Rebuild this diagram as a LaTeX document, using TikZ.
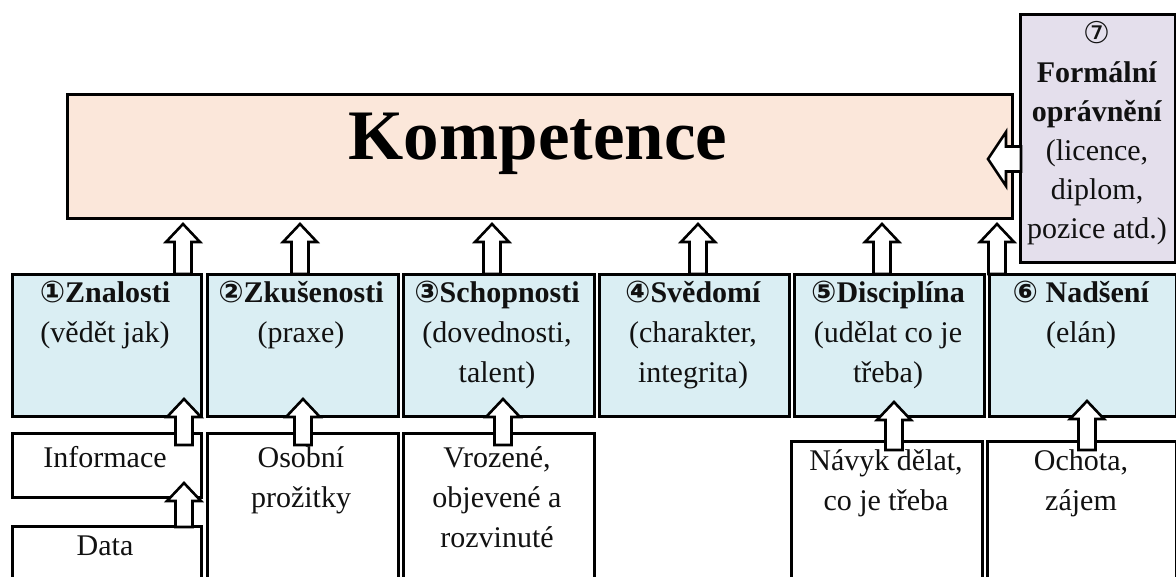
\documentclass[tikz,border=0pt]{standalone}
\usepackage{fontspec}
\setmainfont{Liberation Serif}
\newfontfamily\circfont{DejaVu Sans}
\usetikzlibrary{calc}
\definecolor{kfill}{HTML}{FBE7DA}
\definecolor{bfill}{HTML}{DAEEF3}
\definecolor{lfill}{HTML}{E4DFEC}
\definecolor{ink}{HTML}{111111}
\newcommand\cd[1]{{\circfont #1}}
% #1 shaft half width, #2 head half width, #3 head length, #4 start, #5 tip
\newcommand\blockarrow[5]{%
  \coordinate (ba-s) at #4;
  \coordinate (ba-t) at #5;
  \coordinate (ba-h) at ($(ba-t)!#3!(ba-s)$);
  \draw[barrow] ($(ba-s)!#1!90:(ba-t)$) -- ($(ba-h)!#1!-90:(ba-s)$) -- ($(ba-h)!#2!-90:(ba-s)$) -- (ba-t) -- ($(ba-h)!#2!90:(ba-s)$) -- ($(ba-h)!#1!90:(ba-s)$) -- ($(ba-s)!#1!-90:(ba-t)$) -- cycle;}
\begin{document}
\begin{tikzpicture}[x=1pt,y=-1pt,
  box/.style={draw=black,line width=3pt,rectangle,inner sep=0pt,anchor=north west},
  bluebox/.style={box,fill=bfill,minimum height=142pt},
  whitebox/.style={box,fill=white},
  txt/.style={inner sep=0pt,anchor=north,align=center,text=ink,font=\fontsize{30}{40}\selectfont},
  barrow/.style={draw=black,fill=white,line width=2.6pt,line join=miter}]
\useasboundingbox (0,0) rectangle (1176,577);
\clip (0,0) rectangle (1176,577);

% main box
\node[box,fill=kfill,minimum width=945pt,minimum height=124pt] (komp) at (66,93) {};
\node[anchor=base,inner sep=0pt,text=black,font=\fontsize{71}{80}\selectfont\bfseries] (kt) at (538,160) {Kompetence};

% box 7
\node[box,fill=lfill,minimum width=155pt,minimum height=248pt] (b7) at (1019,13) {};
\node[txt,font=\fontsize{30}{39}\selectfont] (t7) at (1097,15) {\rule{0pt}{28pt}\cd{⑦}\\\textbf{Formální}\\\textbf{oprávnění}\\(licence,\\diplom,\\pozice atd.)};

% blue row
\node[bluebox,minimum width=189.5pt] (b1) at (10.5,273) {};
\node[bluebox,minimum width=191.5pt] (b2) at (205.5,273) {};
\node[bluebox,minimum width=190.5pt] (b3) at (402,273) {};
\node[bluebox,minimum width=190pt] (b4) at (598,273) {};
\node[bluebox,minimum width=190pt] (b5) at (793,273) {};
\node[bluebox,minimum width=187pt] (b6) at (987.5,273) {};

\node[txt] (t1) at (105,274) {\rule{0pt}{28pt}\textbf{\cd{\bfseries ①}Znalosti}\\(vědět jak)};
\node[txt] (t2) at (301,274) {\rule{0pt}{28pt}\textbf{\cd{\bfseries ②}Zkušenosti}\\(praxe)};
\node[txt] (t3) at (497,274) {\rule{0pt}{28pt}\textbf{\cd{\bfseries ③}Schopnosti}\\(dovednosti,\\talent)};
\node[txt] (t4) at (693,274) {\rule{0pt}{28pt}\textbf{\cd{\bfseries ④}Svědomí}\\(charakter,\\integrita)};
\node[txt] (t5) at (888,274) {\rule{0pt}{28pt}\textbf{\cd{\bfseries ⑤}Disciplína}\\(udělat co je\\třeba)};
\node[txt] (t6) at (1081,274) {\rule{0pt}{28pt}\textbf{\cd{\bfseries ⑥} Nadšení}\\(elán)};

% bottom row
\node[whitebox,minimum width=189.5pt,minimum height=64pt] (info) at (10.5,432) {};
\node[whitebox,minimum width=189.5pt,minimum height=70pt] (data) at (10.5,525) {};
\node[whitebox,minimum width=191.5pt,minimum height=160pt] (osob) at (205.5,432) {};
\node[whitebox,minimum width=190.5pt,minimum height=160pt] (vroz) at (402,432) {};
\node[whitebox,minimum width=191pt,minimum height=160pt] (navyk) at (790,440) {};
\node[whitebox,minimum width=188.5pt,minimum height=160pt] (ochota) at (986,440) {};

\node[txt] (ti) at (105,439) {\rule{0pt}{28pt}Informace};
\node[txt] (td) at (105,527) {\rule{0pt}{28pt}Data};
\node[txt] (to) at (301,439) {\rule{0pt}{28pt}Osobní\\prožitky};
\node[txt] (tv) at (497,439) {\rule{0pt}{28pt}Vrozené,\\objevené a\\rozvinuté};
\node[txt] (tn) at (886,442) {\rule{0pt}{28pt}Návyk dělat,\\co je třeba};
\node[txt] (tc) at (1081,442) {\rule{0pt}{28pt}Ochota,\\zájem};

% arrow columns
\coordinate (c1) at (183,0);
\coordinate (c2) at (300,0);
\coordinate (c3) at (492,0);
\coordinate (c4) at (698,0);
\coordinate (c5) at (882,0);
\coordinate (c6) at (997,0);
\coordinate (d1) at (184,0);
\coordinate (d2) at (303,0);
\coordinate (d3) at (503,0);
\coordinate (d5) at (894,0);
\coordinate (d6) at (1087,0);

% arrows blue -> Kompetence
\blockarrow{8.5pt}{17pt}{18pt}{($(b1.north -| c1)+(0,1)$)}{($(komp.south -| c1)+(0,4)$)}
\blockarrow{8.5pt}{17pt}{18pt}{($(b2.north -| c2)+(0,1)$)}{($(komp.south -| c2)+(0,4)$)}
\blockarrow{8.5pt}{17pt}{18pt}{($(b3.north -| c3)+(0,1)$)}{($(komp.south -| c3)+(0,4)$)}
\blockarrow{8.5pt}{17pt}{18pt}{($(b4.north -| c4)+(0,1)$)}{($(komp.south -| c4)+(0,4)$)}
\blockarrow{8.5pt}{17pt}{18pt}{($(b5.north -| c5)+(0,1)$)}{($(komp.south -| c5)+(0,4)$)}
\blockarrow{8.5pt}{17pt}{18pt}{($(b6.north -| c6)+(0,1)$)}{($(komp.south -| c6)+(0,4)$)}

% arrows bottom -> blue
\blockarrow{8.5pt}{17pt}{18pt}{($(info.north -| d1)+(0,13)$)}{($(b1.south -| d1)+(0,-19)$)}
\blockarrow{8.5pt}{17pt}{18pt}{($(data.north -| d1)+(0,2)$)}{($(info.south -| d1)+(0,-16)$)}
\blockarrow{8.5pt}{17pt}{18pt}{($(osob.north -| d2)+(0,13)$)}{($(b2.south -| d2)+(0,-19)$)}
\blockarrow{8.5pt}{17pt}{18pt}{($(vroz.north -| d3)+(0,13)$)}{($(b3.south -| d3)+(0,-19)$)}
\blockarrow{8.5pt}{17pt}{18pt}{($(navyk.north -| d5)+(0,10)$)}{($(b5.south -| d5)+(0,-16)$)}
\blockarrow{8.5pt}{17pt}{18pt}{($(ochota.north -| d6)+(0,10)$)}{($(b6.south -| d6)+(0,-17)$)}

% arrow box 7 -> Kompetence
\coordinate (r7) at (0,159);
\blockarrow{12.5pt}{27pt}{18pt}{($(b7.west |- r7)+(2,0)$)}{($(komp.east |- r7)+(-26,0)$)}
\end{tikzpicture}
\end{document}
